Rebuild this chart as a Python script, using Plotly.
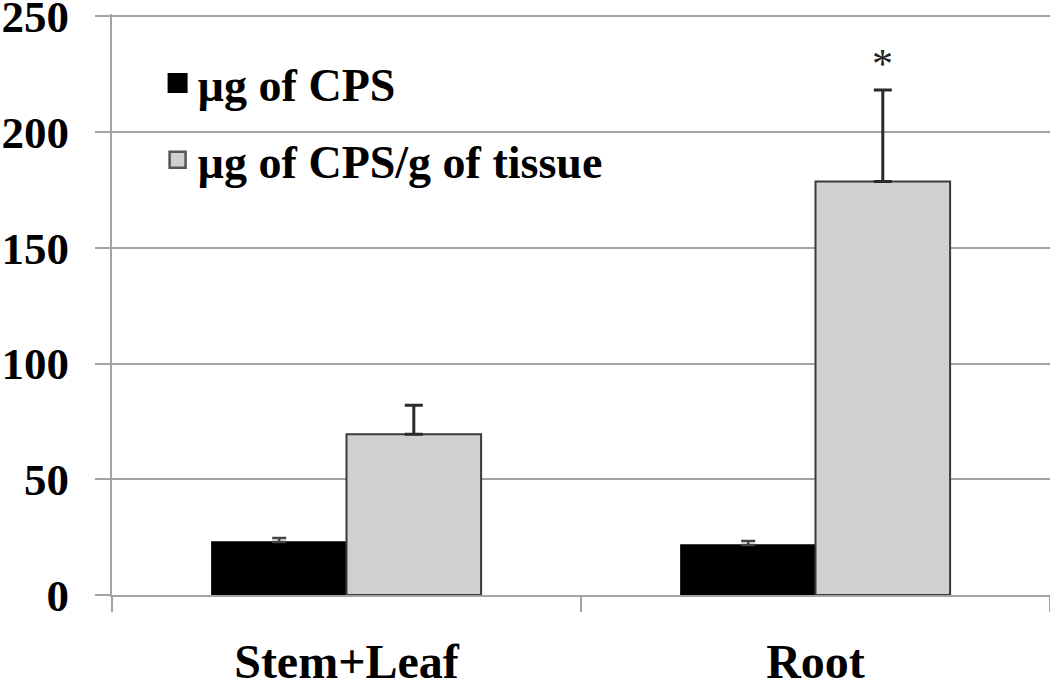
import plotly.graph_objects as go

categories = ["Stem+Leaf", "Root"]
cps_ug = [22.9, 21.6]
cps_ug_err = [1.7, 1.7]
cps_per_g = [69.5, 178.6]
cps_per_g_err = [12.5, 39.6]
series_names = ["µg of CPS", "µg of CPS/g of tissue"]
y_ticks = [0, 50, 100, 150, 200, 250]
star_y = 229.5

bargap = 0.426
FONT = "Liberation Serif"
GRID = "#a3a3a3"

fig = go.Figure()
fig.add_trace(go.Bar(
    x=categories, y=cps_ug, name=series_names[0], showlegend=False,
    marker=dict(color="black", line=dict(color="black", width=1.5)),
    error_y=dict(type="data", array=cps_ug_err, symmetric=False, arrayminus=[0, 0],
                 color="#444444", thickness=2.5, width=7),
))
fig.add_trace(go.Bar(
    x=categories, y=cps_per_g, name=series_names[1], showlegend=False,
    marker=dict(color="#d0d0d0", line=dict(color="#3a3a3a", width=2)),
    error_y=dict(type="data", array=cps_per_g_err, symmetric=False, arrayminus=[0, 0],
                 color="#2a2a2a", thickness=3, width=9),
))
# legend entries
fig.add_trace(go.Scatter(
    x=[None], y=[None], mode="markers", name=series_names[0], legendgroup="a",
    marker=dict(symbol="square", size=16, color="black", line=dict(color="black", width=4)),
))
fig.add_trace(go.Scatter(
    x=[None], y=[None], mode="markers", name=series_names[1], legendgroup="b",
    marker=dict(symbol="square", size=16, color="#d0d0d0", line=dict(color="#555555", width=2.5)),
))

# significance star above the gray Root bar
bar_w = (1 - bargap) / 2
fig.add_annotation(
    x=categories.index("Root") + bar_w / 2, y=star_y, xref="x", yref="y",
    text="*", showarrow=False,
    font=dict(family=FONT, size=42, color="#222222", weight="normal"),
)

fig.update_layout(
    width=1050, height=681,
    margin=dict(l=112, r=0, t=14, b=86),
    paper_bgcolor="white", plot_bgcolor="white",
    barmode="group", bargap=bargap, bargroupgap=0,
    font=dict(family=FONT, size=46, color="black", weight="bold"),
    legend=dict(
        x=0.0486, y=0.944, xanchor="left", yanchor="top",
        bgcolor="rgba(0,0,0,0)", tracegroupgap=14,
        traceorder="grouped",
        font=dict(family=FONT, size=46, color="black", weight="bold"),
    ),
)
fig.update_xaxes(
    type="category", categoryorder="array", categoryarray=categories,
    range=[-0.5, 1.5], automargin=False,
    showline=True, linecolor=GRID, linewidth=2,
    ticks="outside", tickson="boundaries", ticklen=15, tickcolor=GRID, tickwidth=2,
    showgrid=False, ticklabelstandoff=23,
    tickfont=dict(family=FONT, size=48, color="black", weight="bold"),
)
fig.update_yaxes(
    range=[0, 251], tickvals=y_ticks, automargin=False,
    showgrid=True, gridcolor=GRID, gridwidth=2,
    zeroline=False,
    showline=True, linecolor=GRID, linewidth=2,
    ticks="outside", ticklen=15, tickcolor=GRID, tickwidth=2,
    ticklabelstandoff=17, ticklabeloverflow="allow",
    tickfont=dict(family=FONT, size=45, color="black", weight="bold"),
)

fig.write_html("out.html", config={"displayModeBar": False},
               post_script="document.body.style.margin='0';")
